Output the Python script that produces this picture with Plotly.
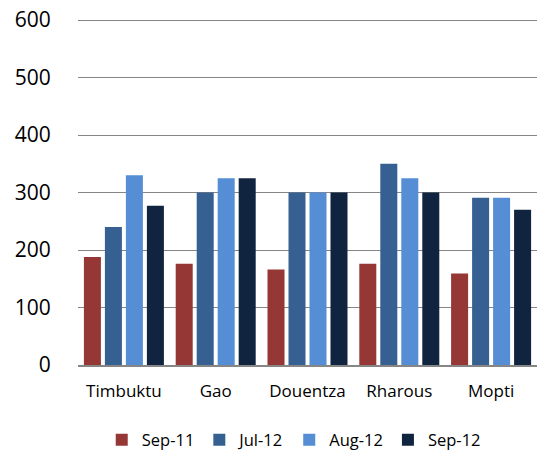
import plotly.graph_objects as go

categories = ["Timbuktu", "Gao", "Douentza", "Rharous", "Mopti"]
series_names = ["Sep-11", "Jul-12", "Aug-12", "Sep-12"]
sep11 = [188, 176, 166, 176, 159]
jul12 = [240, 300, 300, 350, 291]
aug12 = [330, 325, 300, 325, 291]
sep12 = [277, 325, 300, 300, 270]
y_ticks = [0, 100, 200, 300, 400, 500, 600]

colors = ["#953735", "#376092", "#558ED5", "#10243F"]
font = "'Open Sans', sans-serif"

fig = go.Figure()
for name, vals, c in zip(series_names, [sep11, jul12, aug12, sep12], colors):
    fig.add_trace(go.Bar(x=categories, y=vals, name=name, marker=dict(color=c, line=dict(width=0))))

fig.update_layout(
    width=537, height=456,
    margin=dict(l=78, r=0, t=16, b=91, autoexpand=False),
    paper_bgcolor="white", plot_bgcolor="white",
    barmode="group", bargap=0.085, bargroupgap=0.19,
    font=dict(family=font, color="#000000"),
    showlegend=True,
    legend=dict(orientation="h", x=0.47, xanchor="center", y=-0.215, yanchor="middle",
                font=dict(size=16.5), itemwidth=30, traceorder="normal",
                borderwidth=0, bgcolor="rgba(0,0,0,0)"),
    xaxis=dict(showgrid=False, showline=True, linecolor="#868686", linewidth=2,
               tickfont=dict(size=17), ticks="outside", ticklen=10, tickcolor="rgba(0,0,0,0)"),
    yaxis=dict(range=[0, 607], tickvals=y_ticks, showgrid=True, gridcolor="#868686",
               gridwidth=1.3, zeroline=False, showline=False,
               tickfont=dict(size=21), ticks="outside", ticklen=22, tickcolor="rgba(0,0,0,0)"),
)
fig.write_html("out.html")
